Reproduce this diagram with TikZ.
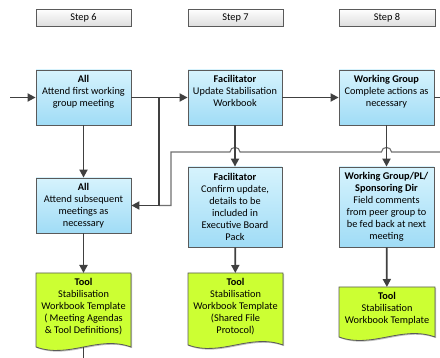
\documentclass[tikz,border=0pt]{standalone}
\usepackage{fontspec}
\setmainfont{Carlito}
\usetikzlibrary{arrows.meta,shadows,calc}
\definecolor{linec}{RGB}{64,64,64}
\definecolor{bordc}{RGB}{90,90,90}
\definecolor{bluetop}{RGB}{214,243,253}
\definecolor{bluebot}{RGB}{160,220,246}
\definecolor{lime}{RGB}{204,255,51}
\definecolor{stepbot}{RGB}{222,222,222}
\tikzset{
  shad/.style={drop shadow={shadow xshift=1.2pt,shadow yshift=-1.2pt,fill=black,opacity=0.25}},
  stepbox/.style={draw=bordc,line width=0.8pt,top color=white,bottom color=stepbot,minimum height=17pt,inner sep=0pt,shad},
  bluebox/.style={draw=bordc,line width=0.8pt,top color=bluetop,bottom color=bluebot,inner sep=0pt,align=center,shad},
  ghost/.style={inner sep=0pt,outer sep=0pt},
  toptext/.style={anchor=north,align=center,inner sep=0pt,yshift=-5.5pt},
  toolshape/.style={draw=bordc,line width=0.8pt,fill=lime,shad},
  conn/.style={draw=linec,line width=1.8pt},
  arr/.style={conn,-{Triangle[length=8pt,width=8pt]}},
  feed/.style={draw=linec!75,line width=1.1pt}
}
\newcommand\wavedoc[1]{%
  \path[toolshape] (#1.north west) -- (#1.north east) -- (#1.south east)
    .. controls ($(#1.south east)+(-33,-12)$) and ($(#1.south west)+(33,12)$) .. (#1.south west) -- cycle;}
\begin{document}
\begin{tikzpicture}[x=1pt,y=-1pt,font=\fontsize{10.3}{12}\selectfont]
\useasboundingbox (0,0) rectangle (440,358);
% step headers
\node[stepbox,minimum width=95pt] (s6) at (83.5,17.5) {Step 6};
\node[stepbox,minimum width=95pt] (s7) at (235.5,17.5) {Step 7};
\node[stepbox,minimum width=96pt] (s8) at (387,17.5) {Step 8};
% row 1
\node[bluebox,minimum width=95pt,minimum height=55pt] (a1) at (83.5,97.5) {};
\node[toptext] at (a1.north) {\textbf{All}\\Attend first working\\group meeting};
\node[bluebox,minimum width=94pt,minimum height=55pt] (f1) at (235,97.5) {};
\node[toptext] at (f1.north) {\textbf{Facilitator}\\Update Stabilisation\\Workbook};
\node[bluebox,minimum width=95pt,minimum height=55pt] (w1) at (386.5,97.5) {};
\node[toptext] at (w1.north) {\textbf{Working Group}\\Complete actions as\\necessary};
% row 2
\node[bluebox,minimum width=95pt,minimum height=55pt] (a2) at (83.5,205.5) {\textbf{All}\\Attend subsequent\\meetings as\\necessary};
\node[bluebox,minimum width=94pt,minimum height=80pt] (f2) at (235,207) {\textbf{Facilitator}\\Confirm update,\\details to be\\included in\\Executive Board\\Pack};
\node[bluebox,minimum width=95pt,minimum height=80pt] (w2) at (386.5,207) {\textbf{Working Group/PL/}\\\textbf{Sponsoring Dir}\\Field comments\\from peer group to\\be fed back at next\\meeting};
% row 3 tools
\node[ghost,minimum width=95pt,minimum height=74pt,anchor=north] (t1) at (83.5,273) {};
\wavedoc{t1}
\node[toptext] at (t1.north) {\textbf{Tool}\\Stabilisation\\Workbook Template\\( Meeting Agendas\\\& Tool Definitions)};
\node[ghost,minimum width=95pt,minimum height=72pt,anchor=north] (t2) at (235.5,273) {};
\wavedoc{t2}
\node[toptext] at (t2.north) {\textbf{Tool}\\Stabilisation\\Workbook Template\\(Shared File\\Protocol)};
\node[ghost,minimum width=96pt,minimum height=50pt,anchor=north] (t3) at (387,287) {};
\wavedoc{t3}
\node[toptext] at (t3.north) {\textbf{Tool}\\Stabilisation\\Workbook Template};
% coordinates
\coordinate (in) at (10,97.5);
\coordinate (out) at (440,97.5);
\coordinate (j1) at (159,97.5);
\coordinate (fr) at (440,152);
\coordinate (fc) at (171,152);
\coordinate (tb) at (83.5,358);
% feed line with hops
\draw[feed] (fr) -- ($(w1.south |- fr)+(5,0)$)
  .. controls ($(w1.south |- fr)+(5,-6)$) and ($(w1.south |- fr)+(-5,-6)$) .. ($(w1.south |- fr)+(-5,0)$)
  -- ($(f1.south |- fr)+(5,0)$)
  .. controls ($(f1.south |- fr)+(5,-6)$) and ($(f1.south |- fr)+(-5,-6)$) .. ($(f1.south |- fr)+(-5,0)$)
  -- (fc) -- (fc |- a2.east) -- (j1 |- a2.east);
% connectors
\draw[arr] (in) -- (a1);
\draw[arr] (a1) -- (f1);
\draw[arr] (f1) -- (w1);
\draw[conn] (w1) -- (out);
\draw[arr] (j1) |- (a2.east);
\draw[arr] (a1) -- (a2);
\draw[arr] (f1) -- (f2);
\draw[arr] (w1) -- (w2);
\draw[arr] (a2) -- (t1);
\draw[arr] (f2) -- (t2);
\draw[arr] (w2) -- (t3);
\draw[conn] (t1.south) -- (tb);
\end{tikzpicture}
\end{document}
